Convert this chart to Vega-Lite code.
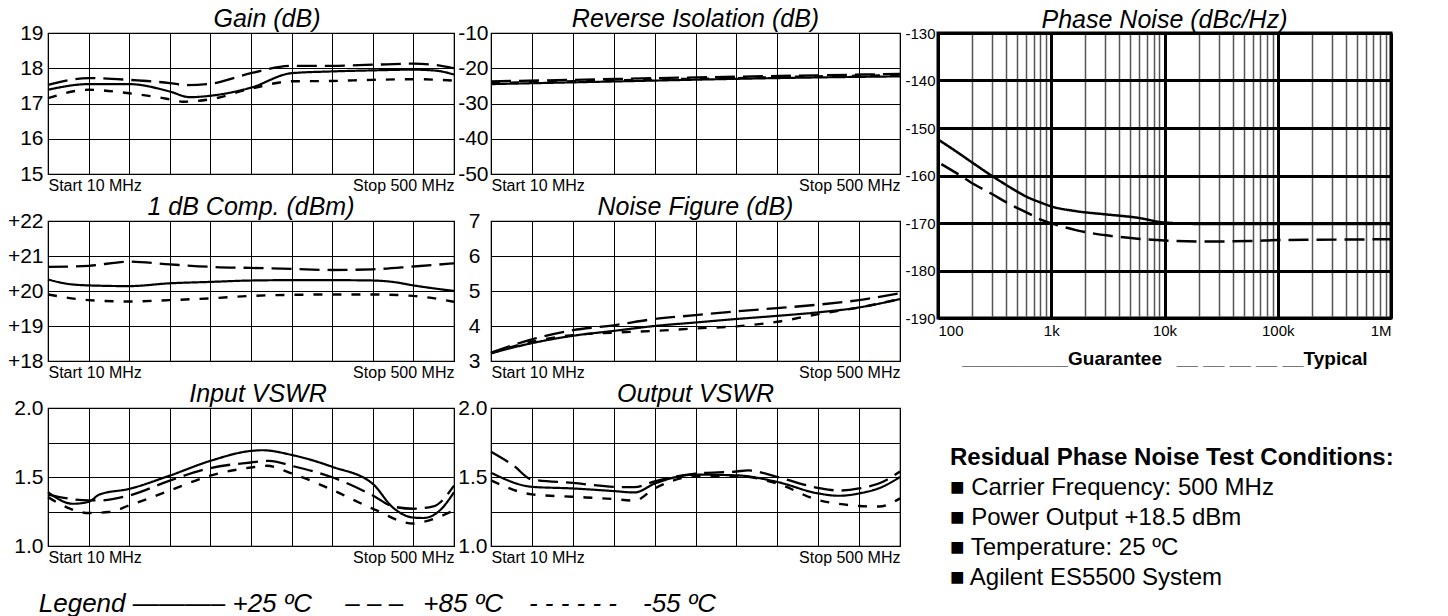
{
  "$schema": "https://vega.github.io/schema/vega-lite/v6.json",
  "background": "white",
  "padding": {"left": 6, "top": 6, "right": 0, "bottom": 0},
  "title": {"text": "Legend ———– +25 ºC\u2003 – – – \u2002+85 ºC\u2003- - - - - -\u2003-55 ºC", "orient": "bottom", "anchor": "start", "frame": "bounds", "dx": 32, "offset": -10, "font": "Liberation Sans", "fontSize": 26, "fontStyle": "italic", "fontWeight": "normal", "color": "black"},
  "config": {
    "font": "Liberation Sans",
    "view": {"stroke": "black", "strokeWidth": 1.2},
    "axis": {"grid": true, "gridColor": "black", "gridWidth": 1, "gridOpacity": 1, "ticks": false, "domain": false, "labelColor": "black", "labelFont": "Liberation Sans", "title": null},
    "title": {"font": "Liberation Sans", "fontStyle": "italic", "fontWeight": "normal", "fontSize": 25, "color": "black", "offset": -10},
    "line": {"color": "black"}
  },
  "datasets": {
    "gain": [
      {"f":10,"v":17.39,"t":"+25"},{"f":59,"v":17.55,"t":"+25"},{"f":108,"v":17.55,"t":"+25"},{"f":157,"v":17.34,"t":"+25"},{"f":181,"v":17.18,"t":"+25"},{"f":206,"v":17.22,"t":"+25"},{"f":255,"v":17.45,"t":"+25"},{"f":304,"v":17.86,"t":"+25"},{"f":353,"v":17.91,"t":"+25"},{"f":402,"v":17.94,"t":"+25"},{"f":451,"v":17.96,"t":"+25"},{"f":479,"v":17.93,"t":"+25"},{"f":500,"v":17.82,"t":"+25"},
      {"f":10,"v":17.53,"t":"+85"},{"f":59,"v":17.72,"t":"+85"},{"f":108,"v":17.67,"t":"+85"},{"f":157,"v":17.58,"t":"+85"},{"f":177,"v":17.52,"t":"+85"},{"f":206,"v":17.56,"t":"+85"},{"f":255,"v":17.86,"t":"+85"},{"f":304,"v":18.07,"t":"+85"},{"f":353,"v":18.07,"t":"+85"},{"f":402,"v":18.1,"t":"+85"},{"f":451,"v":18.13,"t":"+85"},{"f":479,"v":18.09,"t":"+85"},{"f":500,"v":18.0,"t":"+85"},
      {"f":10,"v":17.15,"t":"-55"},{"f":59,"v":17.39,"t":"-55"},{"f":108,"v":17.29,"t":"-55"},{"f":157,"v":17.12,"t":"-55"},{"f":173,"v":17.05,"t":"-55"},{"f":206,"v":17.12,"t":"-55"},{"f":255,"v":17.42,"t":"-55"},{"f":304,"v":17.63,"t":"-55"},{"f":353,"v":17.64,"t":"-55"},{"f":402,"v":17.67,"t":"-55"},{"f":451,"v":17.69,"t":"-55"},{"f":500,"v":17.65,"t":"-55"}
    ],
    "reviso": [
      {"f":10,"v":-24.5,"t":"+25"},{"f":108,"v":-24.0,"t":"+25"},{"f":206,"v":-23.5,"t":"+25"},{"f":304,"v":-23.0,"t":"+25"},{"f":402,"v":-22.6,"t":"+25"},{"f":500,"v":-22.3,"t":"+25"},
      {"f":10,"v":-23.7,"t":"+85"},{"f":108,"v":-23.3,"t":"+85"},{"f":206,"v":-22.8,"t":"+85"},{"f":304,"v":-22.4,"t":"+85"},{"f":402,"v":-22.0,"t":"+85"},{"f":500,"v":-21.6,"t":"+85"},
      {"f":10,"v":-24.2,"t":"-55"},{"f":108,"v":-23.7,"t":"-55"},{"f":206,"v":-23.2,"t":"-55"},{"f":304,"v":-22.8,"t":"-55"},{"f":402,"v":-22.3,"t":"-55"},{"f":500,"v":-22.0,"t":"-55"}
    ],
    "comp": [
      {"f":10,"v":20.33,"t":"+25"},{"f":32,"v":20.21,"t":"+25"},{"f":59,"v":20.16,"t":"+25"},{"f":108,"v":20.14,"t":"+25"},{"f":157,"v":20.22,"t":"+25"},{"f":206,"v":20.26,"t":"+25"},{"f":255,"v":20.3,"t":"+25"},{"f":304,"v":20.31,"t":"+25"},{"f":353,"v":20.31,"t":"+25"},{"f":402,"v":20.3,"t":"+25"},{"f":426,"v":20.26,"t":"+25"},{"f":451,"v":20.16,"t":"+25"},{"f":500,"v":20.0,"t":"+25"},
      {"f":10,"v":20.69,"t":"+85"},{"f":59,"v":20.72,"t":"+85"},{"f":108,"v":20.84,"t":"+85"},{"f":157,"v":20.76,"t":"+85"},{"f":206,"v":20.69,"t":"+85"},{"f":255,"v":20.66,"t":"+85"},{"f":304,"v":20.63,"t":"+85"},{"f":353,"v":20.6,"t":"+85"},{"f":402,"v":20.62,"t":"+85"},{"f":451,"v":20.7,"t":"+85"},{"f":500,"v":20.79,"t":"+85"},
      {"f":10,"v":19.9,"t":"-55"},{"f":59,"v":19.74,"t":"-55"},{"f":108,"v":19.7,"t":"-55"},{"f":157,"v":19.74,"t":"-55"},{"f":206,"v":19.79,"t":"-55"},{"f":255,"v":19.86,"t":"-55"},{"f":304,"v":19.89,"t":"-55"},{"f":353,"v":19.9,"t":"-55"},{"f":402,"v":19.9,"t":"-55"},{"f":451,"v":19.86,"t":"-55"},{"f":500,"v":19.69,"t":"-55"}
    ],
    "nf": [
      {"f":10,"v":3.22,"t":"+25"},{"f":59,"v":3.51,"t":"+25"},{"f":108,"v":3.72,"t":"+25"},{"f":157,"v":3.86,"t":"+25"},{"f":206,"v":4.0,"t":"+25"},{"f":255,"v":4.1,"t":"+25"},{"f":304,"v":4.2,"t":"+25"},{"f":353,"v":4.29,"t":"+25"},{"f":402,"v":4.39,"t":"+25"},{"f":451,"v":4.53,"t":"+25"},{"f":500,"v":4.77,"t":"+25"},
      {"f":10,"v":3.24,"t":"+85"},{"f":59,"v":3.62,"t":"+85"},{"f":108,"v":3.88,"t":"+85"},{"f":157,"v":4.02,"t":"+85"},{"f":206,"v":4.2,"t":"+85"},{"f":255,"v":4.31,"t":"+85"},{"f":304,"v":4.42,"t":"+85"},{"f":353,"v":4.51,"t":"+85"},{"f":402,"v":4.61,"t":"+85"},{"f":451,"v":4.74,"t":"+85"},{"f":500,"v":4.94,"t":"+85"},
      {"f":10,"v":3.22,"t":"-55"},{"f":59,"v":3.55,"t":"-55"},{"f":108,"v":3.74,"t":"-55"},{"f":157,"v":3.81,"t":"-55"},{"f":206,"v":3.86,"t":"-55"},{"f":255,"v":3.93,"t":"-55"},{"f":304,"v":3.99,"t":"-55"},{"f":353,"v":4.12,"t":"-55"},{"f":402,"v":4.34,"t":"-55"},{"f":451,"v":4.53,"t":"-55"},{"f":500,"v":4.77,"t":"-55"}
    ],
    "invswr": [
      {"f":10,"v":1.39,"t":"+25"},{"f":40,"v":1.306,"t":"+25"},{"f":59,"v":1.32,"t":"+25"},{"f":72,"v":1.373,"t":"+25"},{"f":108,"v":1.414,"t":"+25"},{"f":157,"v":1.51,"t":"+25"},{"f":206,"v":1.617,"t":"+25"},{"f":255,"v":1.689,"t":"+25"},{"f":269,"v":1.694,"t":"+25"},{"f":304,"v":1.66,"t":"+25"},{"f":353,"v":1.574,"t":"+25"},{"f":402,"v":1.45,"t":"+25"},{"f":426,"v":1.28,"t":"+25"},{"f":451,"v":1.206,"t":"+25"},{"f":463,"v":1.203,"t":"+25"},{"f":483,"v":1.258,"t":"+25"},{"f":500,"v":1.39,"t":"+25"},
      {"f":10,"v":1.373,"t":"+85"},{"f":59,"v":1.33,"t":"+85"},{"f":72,"v":1.33,"t":"+85"},{"f":108,"v":1.366,"t":"+85"},{"f":157,"v":1.474,"t":"+85"},{"f":206,"v":1.565,"t":"+85"},{"f":255,"v":1.605,"t":"+85"},{"f":277,"v":1.617,"t":"+85"},{"f":304,"v":1.581,"t":"+85"},{"f":353,"v":1.498,"t":"+85"},{"f":402,"v":1.366,"t":"+85"},{"f":426,"v":1.287,"t":"+85"},{"f":451,"v":1.27,"t":"+85"},{"f":475,"v":1.287,"t":"+85"},{"f":500,"v":1.437,"t":"+85"},
      {"f":10,"v":1.354,"t":"-55"},{"f":32,"v":1.282,"t":"-55"},{"f":59,"v":1.239,"t":"-55"},{"f":84,"v":1.246,"t":"-55"},{"f":108,"v":1.294,"t":"-55"},{"f":157,"v":1.402,"t":"-55"},{"f":206,"v":1.51,"t":"-55"},{"f":255,"v":1.569,"t":"-55"},{"f":274,"v":1.581,"t":"-55"},{"f":304,"v":1.526,"t":"-55"},{"f":353,"v":1.407,"t":"-55"},{"f":402,"v":1.27,"t":"-55"},{"f":451,"v":1.163,"t":"-55"},{"f":463,"v":1.175,"t":"-55"},{"f":500,"v":1.258,"t":"-55"}
    ],
    "outvswr": [
      {"f":10,"v":1.531,"t":"+25"},{"f":59,"v":1.429,"t":"+25"},{"f":108,"v":1.417,"t":"+25"},{"f":157,"v":1.398,"t":"+25"},{"f":182,"v":1.388,"t":"+25"},{"f":206,"v":1.452,"t":"+25"},{"f":255,"v":1.517,"t":"+25"},{"f":304,"v":1.512,"t":"+25"},{"f":353,"v":1.464,"t":"+25"},{"f":402,"v":1.381,"t":"+25"},{"f":427,"v":1.364,"t":"+25"},{"f":451,"v":1.381,"t":"+25"},{"f":479,"v":1.429,"t":"+25"},{"f":500,"v":1.5,"t":"+25"},
      {"f":10,"v":1.683,"t":"+85"},{"f":37,"v":1.583,"t":"+85"},{"f":59,"v":1.481,"t":"+85"},{"f":108,"v":1.457,"t":"+85"},{"f":157,"v":1.429,"t":"+85"},{"f":182,"v":1.426,"t":"+85"},{"f":206,"v":1.469,"t":"+85"},{"f":255,"v":1.524,"t":"+85"},{"f":304,"v":1.54,"t":"+85"},{"f":318,"v":1.548,"t":"+85"},{"f":353,"v":1.5,"t":"+85"},{"f":402,"v":1.421,"t":"+85"},{"f":427,"v":1.402,"t":"+85"},{"f":451,"v":1.417,"t":"+85"},{"f":479,"v":1.464,"t":"+85"},{"f":500,"v":1.54,"t":"+85"},
      {"f":10,"v":1.476,"t":"-55"},{"f":59,"v":1.374,"t":"-55"},{"f":108,"v":1.357,"t":"-55"},{"f":157,"v":1.34,"t":"-55"},{"f":182,"v":1.329,"t":"-55"},{"f":206,"v":1.417,"t":"-55"},{"f":255,"v":1.505,"t":"-55"},{"f":304,"v":1.507,"t":"-55"},{"f":353,"v":1.452,"t":"-55"},{"f":402,"v":1.333,"t":"-55"},{"f":427,"v":1.305,"t":"-55"},{"f":451,"v":1.29,"t":"-55"},{"f":475,"v":1.286,"t":"-55"},{"f":500,"v":1.345,"t":"-55"}
    ],
    "pn": [
      {"f":100,"v":-152.4,"s":"Guarantee"},{"f":148,"v":-155.1,"s":"Guarantee"},{"f":210,"v":-157.6,"s":"Guarantee"},{"f":300,"v":-160.1,"s":"Guarantee"},{"f":427,"v":-162.4,"s":"Guarantee"},{"f":609,"v":-164.5,"s":"Guarantee"},{"f":808,"v":-165.7,"s":"Guarantee"},{"f":1000,"v":-166.5,"s":"Guarantee"},{"f":1650,"v":-167.5,"s":"Guarantee"},{"f":3080,"v":-168.2,"s":"Guarantee"},{"f":5800,"v":-168.9,"s":"Guarantee"},{"f":10000,"v":-169.9,"s":"Guarantee"},{"f":21000,"v":-170.2,"s":"Guarantee"},{"f":57000,"v":-170.2,"s":"Guarantee"},{"f":100000,"v":-170.2,"s":"Guarantee"},{"f":1000000,"v":-170.2,"s":"Guarantee"},
      {"f":107,"v":-157.6,"s":"Typical"},{"f":148,"v":-159.6,"s":"Typical"},{"f":210,"v":-161.9,"s":"Typical"},{"f":300,"v":-163.9,"s":"Typical"},{"f":427,"v":-166.0,"s":"Typical"},{"f":609,"v":-167.8,"s":"Typical"},{"f":808,"v":-169.3,"s":"Typical"},{"f":1000,"v":-170.06,"s":"Typical"},{"f":1650,"v":-171.5,"s":"Typical"},{"f":3080,"v":-172.6,"s":"Typical"},{"f":5800,"v":-173.3,"s":"Typical"},{"f":10000,"v":-173.7,"s":"Typical"},{"f":21000,"v":-173.9,"s":"Typical"},{"f":57000,"v":-173.8,"s":"Typical"},{"f":100000,"v":-173.6,"s":"Typical"},{"f":327000,"v":-173.5,"s":"Typical"},{"f":1000000,"v":-173.4,"s":"Typical"}
    ]
  },
  "hconcat": [
    {
      "vconcat": [
        {
          "width": 406, "height": 141,
          "title": {"text": "Gain (dB)", "dx": 16},
          "data": {"name": "gain"},
          "mark": {"type": "line", "interpolate": "monotone"},
          "encoding": {
            "x": {"field": "f", "type": "quantitative", "scale": {"domain": [10, 500], "nice": false, "zero": false}, "axis": {"values": [10,59,108,157,206,255,304,353,402,451,500], "labelExpr": "datum.value == 10 ? 'Start 10 MHz' : datum.value == 500 ? 'Stop 500 MHz' : ''", "labelFlush": true, "labelOverlap": false, "labelFontSize": 16, "labelPadding": 3}},
            "y": {"field": "v", "type": "quantitative", "scale": {"domain": [15, 19], "nice": false, "zero": false}, "axis": {"values": [15,16,17,18,19], "labelFontSize": 21, "labelPadding": 5}},
            "strokeDash": {"field": "t", "type": "nominal", "scale": {"domain": ["+25","+85","-55"], "range": [[1,0],[20,8],[9,10]]}, "legend": null},
            "strokeWidth": {"field": "t", "type": "ordinal", "scale": {"domain": ["+25","+85","-55"], "range": [2.2,2.4,2.8]}, "legend": null}
          }
        },
        {
          "width": 406, "height": 140,
          "title": "1 dB Comp. (dBm)",
          "data": {"name": "comp"},
          "mark": {"type": "line", "interpolate": "monotone"},
          "encoding": {
            "x": {"field": "f", "type": "quantitative", "scale": {"domain": [10, 500], "nice": false, "zero": false}, "axis": {"values": [10,59,108,157,206,255,304,353,402,451,500], "labelExpr": "datum.value == 10 ? 'Start 10 MHz' : datum.value == 500 ? 'Stop 500 MHz' : ''", "labelFlush": true, "labelOverlap": false, "labelFontSize": 16, "labelPadding": 3}},
            "y": {"field": "v", "type": "quantitative", "scale": {"domain": [18, 22], "nice": false, "zero": false}, "axis": {"values": [18,19,20,21,22], "labelExpr": "'+' + datum.value", "labelFontSize": 21, "labelPadding": 5}},
            "strokeDash": {"field": "t", "type": "nominal", "scale": {"domain": ["+25","+85","-55"], "range": [[1,0],[20,8],[9,10]]}, "legend": null},
            "strokeWidth": {"field": "t", "type": "ordinal", "scale": {"domain": ["+25","+85","-55"], "range": [2.2,2.4,2.8]}, "legend": null}
          }
        },
        {
          "width": 406, "height": 138,
          "title": {"text": "Input VSWR", "dx": 7},
          "data": {"name": "invswr"},
          "mark": {"type": "line", "interpolate": "monotone"},
          "encoding": {
            "x": {"field": "f", "type": "quantitative", "scale": {"domain": [10, 500], "nice": false, "zero": false}, "axis": {"values": [10,59,108,157,206,255,304,353,402,451,500], "labelExpr": "datum.value == 10 ? 'Start 10 MHz' : datum.value == 500 ? 'Stop 500 MHz' : ''", "labelFlush": true, "labelOverlap": false, "labelFontSize": 16, "labelPadding": 3}},
            "y": {"field": "v", "type": "quantitative", "scale": {"domain": [1, 2], "nice": false, "zero": false}, "axis": {"values": [1,1.25,1.5,1.75,2], "labelExpr": "datum.value == 1.25 || datum.value == 1.75 ? '' : format(datum.value, '.1f')", "labelFontSize": 21, "labelPadding": 5}},
            "strokeDash": {"field": "t", "type": "nominal", "scale": {"domain": ["+25","+85","-55"], "range": [[1,0],[20,8],[9,10]]}, "legend": null},
            "strokeWidth": {"field": "t", "type": "ordinal", "scale": {"domain": ["+25","+85","-55"], "range": [2.2,2.4,2.8]}, "legend": null}
          }
        }
      ],
      "spacing": 47,
      "bounds": "flush"
    },
    {
      "vconcat": [
        {
          "width": 409, "height": 141,
          "title": "Reverse Isolation (dB)",
          "data": {"name": "reviso"},
          "mark": {"type": "line", "interpolate": "monotone"},
          "encoding": {
            "x": {"field": "f", "type": "quantitative", "scale": {"domain": [10, 500], "nice": false, "zero": false}, "axis": {"values": [10,59,108,157,206,255,304,353,402,451,500], "labelExpr": "datum.value == 10 ? 'Start 10 MHz' : datum.value == 500 ? 'Stop 500 MHz' : ''", "labelFlush": true, "labelOverlap": false, "labelFontSize": 16, "labelPadding": 3}},
            "y": {"field": "v", "type": "quantitative", "scale": {"domain": [-50, -10], "nice": false, "zero": false}, "axis": {"values": [-50,-40,-30,-20,-10], "labelExpr": "'-' + abs(datum.value)", "labelFontSize": 21, "labelPadding": 3}},
            "strokeDash": {"field": "t", "type": "nominal", "scale": {"domain": ["+25","+85","-55"], "range": [[1,0],[20,8],[9,10]]}, "legend": null},
            "strokeWidth": {"field": "t", "type": "ordinal", "scale": {"domain": ["+25","+85","-55"], "range": [2.2,2.4,2.8]}, "legend": null}
          }
        },
        {
          "width": 409, "height": 140,
          "title": "Noise Figure (dB)",
          "data": {"name": "nf"},
          "mark": {"type": "line", "interpolate": "monotone"},
          "encoding": {
            "x": {"field": "f", "type": "quantitative", "scale": {"domain": [10, 500], "nice": false, "zero": false}, "axis": {"values": [10,59,108,157,206,255,304,353,402,451,500], "labelExpr": "datum.value == 10 ? 'Start  10 MHz' : datum.value == 500 ? 'Stop  500 MHz' : ''", "labelFlush": true, "labelOverlap": false, "labelFontSize": 16, "labelPadding": 3}},
            "y": {"field": "v", "type": "quantitative", "scale": {"domain": [3, 7], "nice": false, "zero": false}, "axis": {"values": [3,4,5,6,7], "labelFontSize": 21, "labelPadding": 11}},
            "strokeDash": {"field": "t", "type": "nominal", "scale": {"domain": ["+25","+85","-55"], "range": [[1,0],[20,8],[9,10]]}, "legend": null},
            "strokeWidth": {"field": "t", "type": "ordinal", "scale": {"domain": ["+25","+85","-55"], "range": [2.2,2.4,2.8]}, "legend": null}
          }
        },
        {
          "width": 409, "height": 138,
          "title": "Output VSWR",
          "data": {"name": "outvswr"},
          "mark": {"type": "line", "interpolate": "monotone"},
          "encoding": {
            "x": {"field": "f", "type": "quantitative", "scale": {"domain": [10, 500], "nice": false, "zero": false}, "axis": {"values": [10,59,108,157,206,255,304,353,402,451,500], "labelExpr": "datum.value == 10 ? 'Start 10 MHz' : datum.value == 500 ? 'Stop 500 MHz' : ''", "labelFlush": true, "labelOverlap": false, "labelFontSize": 16, "labelPadding": 3}},
            "y": {"field": "v", "type": "quantitative", "scale": {"domain": [1, 2], "nice": false, "zero": false}, "axis": {"values": [1,1.25,1.5,1.75,2], "labelExpr": "datum.value == 1.25 || datum.value == 1.75 ? '' : format(datum.value, '.1f')", "labelFontSize": 21, "labelPadding": 4}},
            "strokeDash": {"field": "t", "type": "nominal", "scale": {"domain": ["+25","+85","-55"], "range": [[1,0],[20,8],[9,10]]}, "legend": null},
            "strokeWidth": {"field": "t", "type": "ordinal", "scale": {"domain": ["+25","+85","-55"], "range": [2.2,2.4,2.8]}, "legend": null}
          }
        }
      ],
      "spacing": 47,
      "bounds": "flush"
    },
    {
      "vconcat": [
        {
          "width": 453, "height": 285,
          "title": {"text": "Phase Noise (dBc/Hz)", "offset": -7},
          "view": {"stroke": "black", "strokeWidth": 3},
          "data": {"name": "pn"},
          "mark": {"type": "line", "interpolate": "monotone", "strokeWidth": 2.5},
          "encoding": {
            "x": {"field": "f", "type": "quantitative", "scale": {"type": "log", "domain": [100, 1000000], "nice": false}, "axis": {"values": [100,200,300,400,500,600,700,800,900,1000,2000,3000,4000,5000,6000,7000,8000,9000,10000,20000,30000,40000,50000,60000,70000,80000,90000,100000,200000,300000,400000,500000,600000,700000,800000,900000,1000000],
              "gridWidth": {"condition": {"test": "datum.value == 100 || datum.value == 1000 || datum.value == 10000 || datum.value == 100000 || datum.value == 1000000", "value": 3}, "value": 1.5},
              "gridColor": {"condition": {"test": "datum.value == 100 || datum.value == 1000 || datum.value == 10000 || datum.value == 100000 || datum.value == 1000000", "value": "black"}, "value": "#555555"},
              "labelExpr": "datum.value == 100 ? '100' : datum.value == 1000 ? '1k' : datum.value == 10000 ? '10k' : datum.value == 100000 ? '100k' : datum.value == 1000000 ? '1M' : ''",
              "labelFlush": true, "labelOverlap": false, "labelFontSize": 15, "labelPadding": 5,
              "title": "__________Guarantee\u2002 __ __ __ __ __Typical", "titleFont": "Liberation Sans", "titleFontSize": 19, "titleFontWeight": "bold", "titleColor": "black", "titlePadding": 11}},
            "y": {"field": "v", "type": "quantitative", "scale": {"domain": [-190, -130], "nice": false, "zero": false}, "axis": {"values": [-190,-180,-170,-160,-150,-140,-130], "labelExpr": "'-' + abs(datum.value)", "gridWidth": 3, "labelFontSize": 15, "labelPadding": 3}},
            "strokeDash": {"field": "s", "type": "nominal", "scale": {"domain": ["Guarantee","Typical"], "range": [[1,0],[18,10]]}, "legend": null}
          }
        },
        {
          "width": 453, "height": 1,
          "view": {"stroke": null},
          "title": {"text": "Residual Phase Noise Test Conditions:", "subtitle": ["■ Carrier Frequency: 500 MHz", "■ Power Output +18.5 dBm", "■ Temperature: 25 ºC", "■ Agilent ES5500 System"], "anchor": "start", "dx": 12, "fontSize": 24, "fontWeight": "bold", "fontStyle": "normal", "subtitleFont": "Liberation Sans", "subtitleFontSize": 24, "subtitleFontStyle": "normal", "subtitleColor": "black", "subtitleLineHeight": 30, "subtitlePadding": 6, "offset": 0},
          "data": {"values": [{"t": ""}]},
          "mark": "text",
          "encoding": {"text": {"field": "t"}}
        }
      ],
      "spacing": 277,
      "bounds": "flush"
    }
  ],
  "spacing": -3
}
